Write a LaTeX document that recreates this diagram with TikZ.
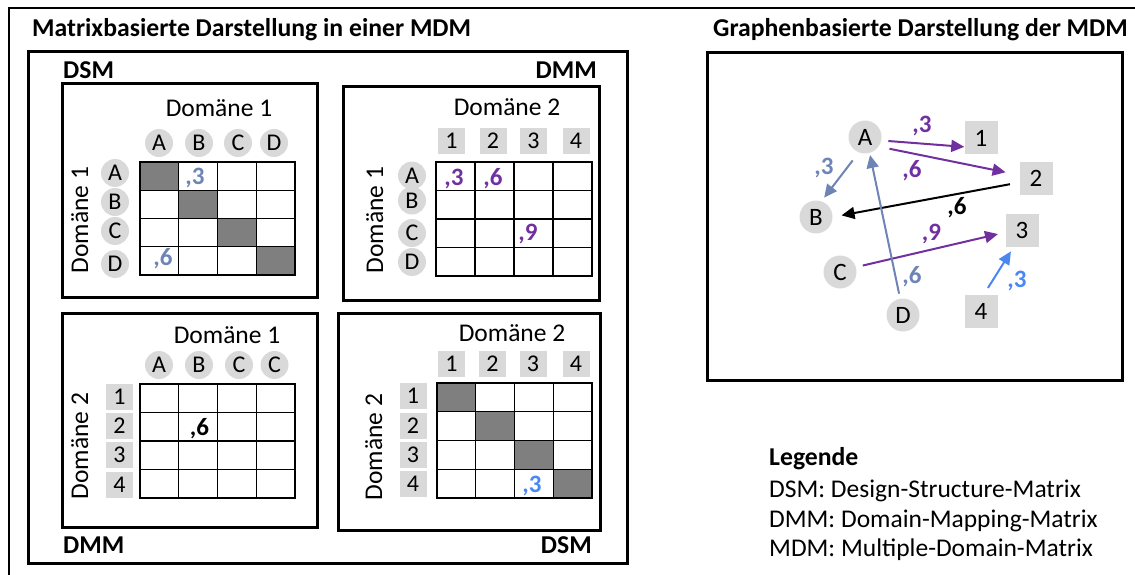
\documentclass[tikz,border=0pt]{standalone}
\usepackage{fontspec}
\setmainfont{Carlito}
\usetikzlibrary{arrows.meta,calc}

\definecolor{vlila}{HTML}{7030A0}
\definecolor{graublau}{HTML}{6D84B4}
\definecolor{hellblau}{HTML}{4A86F4}
\definecolor{hgrau}{HTML}{D9D9D9}
\definecolor{dgrau}{HTML}{7F7F7F}

\tikzset{
  txt/.style={font=\fontsize{25.5}{30}\selectfont, inner sep=0pt},
  btxt/.style={font=\bfseries\fontsize{25.7}{30}\selectfont, inner sep=0pt},
  kreis/.style={circle, fill=hgrau, minimum size=28pt, inner sep=0pt, font=\fontsize{24}{28}\selectfont},
  quad/.style={rectangle, fill=hgrau, minimum width=27pt, minimum height=26pt, inner sep=0pt, font=\fontsize{24}{28}\selectfont},
  gkreis/.style={circle, fill=hgrau, minimum size=33pt, inner sep=0pt, font=\fontsize{25}{29}\selectfont},
  gquad/.style={rectangle, fill=hgrau, minimum size=33pt, inner sep=0pt, font=\fontsize{25}{29}\selectfont},
  rahmen/.style={draw, line width=3pt},
  gitter/.style={draw, line width=1.4pt},
  wert/.style={font=\bfseries\fontsize{25}{29}\selectfont, inner sep=0pt, anchor=base},
  pfeil/.style={line width=2pt, -{Triangle[length=13pt,width=12pt]}},
}

% 4x4 matrix grid between (#1,#2) and (#3,#4), dark diagonal if #5=1
\newcommand\matgitter[5]{%
  \ifnum#5=1
    \foreach \k in {0,1,2,3}
      \fill[dgrau] ({#1+\k*(#3-#1)/4},{#2+\k*(#4-#2)/4}) rectangle ({#1+(\k+1)*(#3-#1)/4},{#2+(\k+1)*(#4-#2)/4});
  \fi
  \draw[gitter] (#1,#2) rectangle (#3,#4);
  \foreach \k in {1,2,3} {
    \draw[gitter] ({#1+\k*(#3-#1)/4},#2) -- ({#1+\k*(#3-#1)/4},#4);
    \draw[gitter] (#1,{#2+\k*(#4-#2)/4}) -- (#3,{#2+\k*(#4-#2)/4});
  }%
}

\begin{document}
\begin{tikzpicture}[x=1pt,y=-1pt]
\useasboundingbox (0,0) rectangle (1135,575);
\clip (0,0) rectangle (1135,575);

% outer frame
\draw[line width=2pt] (9,8) rectangle (1150,590);

% titles
\node[btxt, anchor=base west] (t1) at (32,37) {Matrixbasierte Darstellung in einer MDM};
\node[btxt, anchor=base east] (t2) at (1128,37) {Graphenbasierte Darstellung der MDM};

% MDM container
\draw[rahmen] (28,52) rectangle (627,563);
\node[btxt, anchor=base west] (dsm1) at (63,79) {DSM};
\node[btxt, anchor=base east] (dmm1) at (597,79) {DMM};
\node[btxt, anchor=base west] (dmm2) at (63,553) {DMM};
\node[btxt, anchor=base east] (dsm2) at (592,553) {DSM};

% ---- DSM Domäne 1 ----
\draw[rahmen] (62,84) rectangle (317,297);
\node[txt, anchor=base] (h1) at (219,117) {Domäne 1};
\node[txt, anchor=base, rotate=90] (v1) at (88,220) {Domäne 1};
\matgitter{140}{162}{295}{275}{1}
\node[kreis] (c1A) at (159,143) {A};
\node[kreis] (c1B) at (199,143) {B};
\node[kreis] (c1C) at (238,143) {C};
\node[kreis] (c1D) at (274,143) {D};
\node[kreis] (r1A) at (115,173) {A};
\node[kreis] (r1B) at (115,202) {B};
\node[kreis] (r1C) at (115,231) {C};
\node[kreis] (r1D) at (115,264) {D};
\node[wert, text=graublau] (w1a) at (195,184) {,3};
\node[wert, text=graublau] (w1b) at (163,265) {,6};

% ---- DMM Domäne 1 x Domäne 2 ----
\draw[rahmen] (343,87) rectangle (599,300);
\node[txt, anchor=base] (h2) at (507,116) {Domäne 2};
\node[txt, anchor=base, rotate=90] (v2) at (383,220) {Domäne 1};
\matgitter{436}{162}{592}{276}{0}
\node[quad] (c2a) at (451.5,141) {1};
\node[quad] (c2b) at (493,141) {2};
\node[quad] (c2c) at (533.5,141) {3};
\node[quad] (c2d) at (576,141) {4};
\node[kreis] (r2A) at (412,175.5) {A};
\node[kreis] (r2B) at (412,200.5) {B};
\node[kreis] (r2C) at (412,233) {C};
\node[kreis] (r2D) at (412,262) {D};
\node[wert, text=vlila] (w2a) at (454,185) {,3};
\node[wert, text=vlila] (w2b) at (493,185) {,6};
\node[wert, text=vlila] (w2c) at (528,240) {,9};

% ---- DMM Domäne 2 x Domäne 1 ----
\draw[rahmen] (62,313) rectangle (317,527);
\node[txt, anchor=base] (h3) at (227,343) {Domäne 1};
\node[txt, anchor=base, rotate=90] (v3) at (88,446) {Domäne 2};
\matgitter{140}{384}{295}{498}{0}
\node[kreis] (c3A) at (159,365) {A};
\node[kreis] (c3B) at (199,365) {B};
\node[kreis] (c3C) at (239,365) {C};
\node[kreis] (c3D) at (274.5,365) {C};
\node[quad] (r3a) at (119.5,397) {1};
\node[quad] (r3b) at (119.5,426) {2};
\node[quad] (r3c) at (119.5,455) {3};
\node[quad] (r3d) at (119.5,485) {4};
\node[wert] (w3a) at (199.5,435) {,6};

% ---- DSM Domäne 2 ----
\draw[rahmen] (338,313) rectangle (600,530);
\node[txt, anchor=base] (h4) at (512,341) {Domäne 2};
\node[txt, anchor=base, rotate=90] (v4) at (382,447) {Domäne 2};
\matgitter{437}{383}{592}{498}{1}
\node[quad] (c4a) at (451.5,364) {1};
\node[quad] (c4b) at (492.5,364) {2};
\node[quad] (c4c) at (533,364) {3};
\node[quad] (c4d) at (576,364) {4};
\node[quad] (r4a) at (413,395.5) {1};
\node[quad] (r4b) at (413,425.5) {2};
\node[quad] (r4c) at (413,455) {3};
\node[quad] (r4d) at (413,484) {4};
\node[wert, text=hellblau] (w4a) at (532,492) {,3};

% ---- graph ----
\draw[rahmen] (707,53) rectangle (1122,380);
\node[gkreis] (A) at (865,137) {A};
\node[gkreis] (B) at (816,217) {B};
\node[gkreis] (C) at (840,272) {C};
\node[gkreis] (D) at (903,315) {D};
\node[gquad] (n1) at (981,138) {1};
\node[gquad] (n2) at (1036,178) {2};
\node[gquad] (n3) at (1022,230) {3};
\node[gquad] (n4) at (981,311) {4};

\draw[pfeil, vlila, shorten <=7pt] (A.-12) -- (n1.-152);
\draw[pfeil, vlila, shorten <=11pt, shorten >=14pt] (A.-35) -- (n2.170);
\draw[pfeil, graublau, shorten <=10pt, shorten >=4.5pt] (A.-112) -- (B.71);
\draw[pfeil, black, shorten <=9.5pt, shorten >=9pt] (n2.-165) -- (B.0);
\draw[pfeil, vlila, shorten <=7pt, shorten >=7.5pt] (C.17) -- (n3.-172);
\draw[pfeil, graublau, shorten <=5pt, shorten >=2pt] (D.100) -- (A.-74);
\draw[pfeil, hellblau, shorten <=7.5pt, shorten >=5.5pt] (n4.80) -- (n3.-116);

\node[wert, text=vlila] (e1) at (922,133) {,3};
\node[wert, text=vlila] (e2) at (912,178) {,6};
\node[wert, text=graublau] (e3) at (824,174) {,3};
\node[wert] (e4) at (957,214) {,6};
\node[wert, text=vlila] (e5) at (931.5,240) {,9};
\node[wert, text=graublau] (e6) at (912,283) {,6};
\node[wert, text=hellblau] (e7) at (1017,287) {,3};

% legend
\node[btxt, anchor=base west] (lg) at (769,465) {Legende};
\node[txt, anchor=base west] (lg1) at (769,497) {DSM: Design-Structure-Matrix};
\node[txt, anchor=base west] (lg2) at (769,527) {DMM: Domain-Mapping-Matrix};
\node[txt, anchor=base west] (lg3) at (769,556) {MDM: Multiple-Domain-Matrix};
\end{tikzpicture}
\end{document}
